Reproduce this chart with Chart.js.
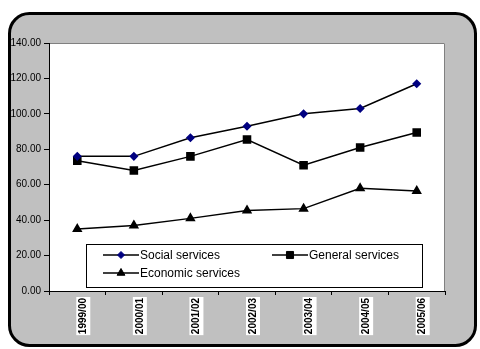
<!DOCTYPE html>
<html>
<head>
<meta charset="utf-8">
<script src="https://cdn.jsdelivr.net/npm/chart.js@4.4.1/dist/chart.umd.min.js"></script>
<style>
  html, body { margin: 0; padding: 0; background: #fff; }
</style>
</head>
<body>
<canvas id="myChart" width="480" height="349"></canvas>
<script>
const years = ['1999/00', '2000/01', '2001/02', '2002/03', '2003/04', '2004/05', '2005/06'];
const social = [76, 76, 86.5, 93, 100, 103, 117];
const general = [73.5, 68, 76, 85.5, 71, 81, 89.5];
const economic = [35, 37, 41, 45.5, 46.5, 58, 56.5];

const ctx = document.getElementById('myChart').getContext('2d');

// grey rounded frame + white plot area
const framePlugin = {
  id: 'frame',
  beforeDraw(chart) {
    const c = chart.ctx;
    const a = chart.chartArea;
    c.save();
    c.beginPath();
    c.roundRect(9.5, 13.5, 466, 332, 20);
    c.fillStyle = '#c0c0c0';
    c.fill();
    c.lineWidth = 3;
    c.strokeStyle = '#000';
    c.stroke();
    c.fillStyle = '#fff';
    c.fillRect(a.left, a.top, a.right - a.left, a.bottom - a.top);
    c.strokeStyle = '#808080';
    c.lineWidth = 1;
    c.beginPath();
    c.moveTo(a.left, a.top + 0.5);
    c.lineTo(a.right - 0.5, a.top + 0.5);
    c.lineTo(a.right - 0.5, a.bottom);
    c.stroke();
    c.restore();
  }
};

// legend box inside plot area
const boxLegend = {
  id: 'boxLegend',
  afterDatasetsDraw(chart) {
    const c = chart.ctx;
    c.save();
    c.fillStyle = '#fff';
    c.fillRect(86, 244, 336, 43);
    c.strokeStyle = '#000';
    c.lineWidth = 1;
    c.strokeRect(86.5, 244.5, 336, 43);
    const slots = [[103, 255], [272, 255], [103, 273]];
    c.font = '12px "Liberation Sans", Arial, sans-serif';
    c.textBaseline = 'middle';
    chart.data.datasets.forEach((ds, i) => {
      const [x, y] = slots[i];
      c.strokeStyle = '#000';
      c.lineWidth = 1.5;
      c.beginPath();
      c.moveTo(x, y);
      c.lineTo(x + 36, y);
      c.stroke();
      c.fillStyle = ds.pointBackgroundColor;
      c.strokeStyle = ds.pointBorderColor;
      c.lineWidth = 1;
      Chart.helpers.drawPoint(c, {pointStyle: ds.pointStyle, radius: ds.pointRadius, borderWidth: 1}, x + 18, y);
      c.fillStyle = '#000';
      c.fillText(ds.label, x + 37, y + 1);
    });
    c.restore();
  }
};

const data = {
  labels: years,
  datasets: [
    {
      label: 'Social services',
      data: social,
      borderColor: '#000',
      borderWidth: 1.5,
      pointStyle: 'rectRot',
      pointRadius: 3.5,
      pointBackgroundColor: '#000080',
      pointBorderColor: '#000080'
    },
    {
      label: 'General services',
      data: general,
      borderColor: '#000',
      borderWidth: 1.5,
      pointStyle: 'rect',
      pointRadius: 5,
      pointBackgroundColor: '#000',
      pointBorderColor: '#000'
    },
    {
      label: 'Economic services',
      data: economic,
      borderColor: '#000',
      borderWidth: 1.5,
      pointStyle: 'triangle',
      pointRadius: 4.5,
      pointBackgroundColor: '#000',
      pointBorderColor: '#000'
    }
  ]
};

const config = {
  type: 'line',
  data: data,
  options: {
    responsive: false,
    animation: false,
    layout: { padding: { top: 43, right: 35, left: 0, bottom: 0 } },
    plugins: { legend: { display: false }, tooltip: { enabled: false } },
    scales: {
      x: {
        offset: true,
        grid: { offset: true, drawOnChartArea: false, tickLength: 4, color: '#000' },
        border: { display: true, color: '#000', width: 1 },
        ticks: {
          autoSkip: false,
          minRotation: 90,
          maxRotation: 90,
          padding: 3,
          color: '#000',
          font: { family: '"Liberation Sans", Arial, sans-serif', size: 10, weight: 'bold' },
          showLabelBackdrop: true,
          backdropColor: '#fff',
          backdropPadding: 1
        },
        afterFit(scale) { scale.height = 58; }
      },
      y: {
        min: 0,
        max: 140,
        grid: { drawOnChartArea: false, tickLength: 5, color: '#000' },
        border: { display: true, color: '#000', width: 1 },
        ticks: {
          stepSize: 20,
          padding: 3,
          color: '#000',
          font: { family: '"Liberation Sans", Arial, sans-serif', size: 10 },
          callback: v => v.toFixed(2)
        },
        afterFit(scale) { scale.width = 49; }
      }
    }
  },
  plugins: [framePlugin, boxLegend]
};

let myChart = new Chart(ctx, config);
</script>
</body>
</html>
